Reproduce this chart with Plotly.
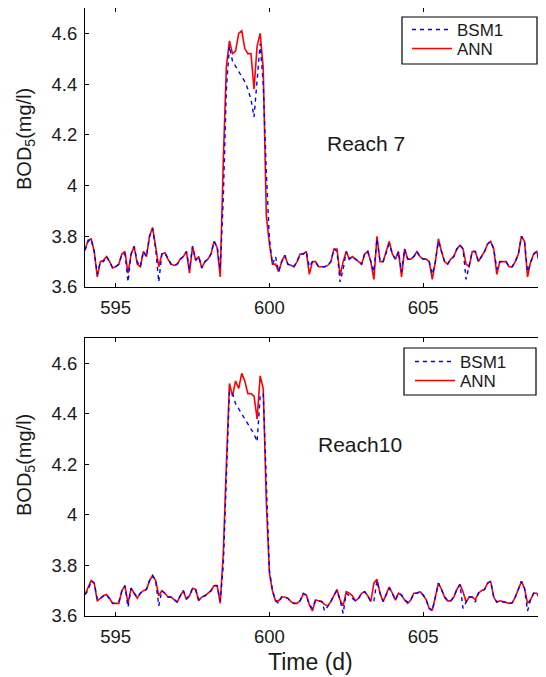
import plotly.graph_objects as go

# ---------------- data ----------------
T_START = 594.0
T_STEP = 0.1
N_POINTS = 151
time_d = [round(T_START + i * T_STEP, 1) for i in range(N_POINTS)]

reach7_ann = [
    3.745, 3.785, 3.79, 3.74, 3.64, 3.70, 3.705, 3.72, 3.70, 3.675,
    3.68, 3.69, 3.73, 3.74, 3.655, 3.73, 3.76, 3.69, 3.68, 3.74,
    3.72, 3.80, 3.835, 3.75, 3.68, 3.73, 3.735, 3.71, 3.69, 3.685,
    3.69, 3.71, 3.72, 3.74, 3.655, 3.76, 3.705, 3.72, 3.675, 3.70,
    3.71, 3.73, 3.78, 3.755, 3.64, 4.10, 4.47, 4.57, 4.52, 4.53,
    4.60, 4.61, 4.54, 4.52, 4.52, 4.38, 4.55, 4.60, 4.46, 3.88,
    3.77, 3.69, 3.69, 3.66, 3.70, 3.725, 3.69, 3.686, 3.68, 3.70,
    3.73, 3.73, 3.74, 3.65, 3.70, 3.70, 3.68, 3.68, 3.68, 3.685,
    3.70, 3.75, 3.75, 3.645, 3.70, 3.74, 3.71, 3.72, 3.71, 3.70,
    3.69, 3.73, 3.74, 3.70, 3.63, 3.80, 3.70, 3.70, 3.74, 3.78,
    3.73, 3.71, 3.74, 3.64, 3.75, 3.71, 3.71, 3.72, 3.74, 3.72,
    3.71, 3.71, 3.70, 3.63, 3.70, 3.79, 3.74, 3.70, 3.69, 3.71,
    3.72, 3.75, 3.765, 3.75, 3.69, 3.68, 3.74, 3.74, 3.70, 3.72,
    3.74, 3.77, 3.78, 3.75, 3.65, 3.70, 3.70, 3.70, 3.68, 3.68,
    3.70, 3.73, 3.80, 3.78, 3.64, 3.70, 3.73, 3.74, 3.69, 3.70,
    3.71,
]

reach7_bsm1 = [
    3.745, 3.78, 3.79, 3.74, 3.65, 3.70, 3.70, 3.72, 3.70, 3.675,
    3.68, 3.69, 3.73, 3.73, 3.62, 3.73, 3.76, 3.70, 3.68, 3.74,
    3.72, 3.80, 3.83, 3.75, 3.62, 3.73, 3.735, 3.71, 3.69, 3.685,
    3.69, 3.71, 3.72, 3.74, 3.67, 3.76, 3.705, 3.72, 3.675, 3.70,
    3.71, 3.73, 3.78, 3.76, 3.67, 3.95, 4.38, 4.55, 4.49, 4.47,
    4.45, 4.43, 4.41, 4.38, 4.34, 4.27, 4.42, 4.56, 4.40, 4.05,
    3.79, 3.69, 3.72, 3.66, 3.70, 3.725, 3.69, 3.686, 3.68, 3.70,
    3.73, 3.73, 3.74, 3.68, 3.70, 3.70, 3.68, 3.68, 3.68, 3.685,
    3.70, 3.75, 3.74, 3.62, 3.67, 3.74, 3.71, 3.72, 3.71, 3.70,
    3.69, 3.73, 3.74, 3.70, 3.66, 3.79, 3.70, 3.70, 3.74, 3.77,
    3.73, 3.71, 3.74, 3.66, 3.75, 3.71, 3.71, 3.72, 3.74, 3.72,
    3.71, 3.71, 3.70, 3.65, 3.70, 3.78, 3.74, 3.70, 3.69, 3.71,
    3.72, 3.75, 3.765, 3.75, 3.63, 3.68, 3.74, 3.74, 3.70, 3.72,
    3.74, 3.77, 3.78, 3.75, 3.67, 3.70, 3.70, 3.70, 3.68, 3.68,
    3.70, 3.73, 3.80, 3.78, 3.66, 3.70, 3.73, 3.74, 3.69, 3.64,
    3.67,
]

reach10_ann = [
    3.685, 3.71, 3.74, 3.73, 3.66, 3.67, 3.68, 3.685, 3.67, 3.65,
    3.65, 3.65, 3.70, 3.72, 3.65, 3.71, 3.69, 3.67, 3.69, 3.70,
    3.705, 3.74, 3.76, 3.74, 3.68, 3.70, 3.69, 3.675, 3.675, 3.665,
    3.655, 3.68, 3.70, 3.665, 3.68, 3.71, 3.705, 3.66, 3.675, 3.68,
    3.69, 3.70, 3.72, 3.72, 3.65, 3.85, 4.20, 4.52, 4.47, 4.53,
    4.50, 4.56, 4.53, 4.48, 4.48, 4.47, 4.38, 4.55, 4.50, 4.05,
    3.77, 3.70, 3.66, 3.66, 3.675, 3.675, 3.67, 3.657, 3.65, 3.65,
    3.66, 3.686, 3.683, 3.645, 3.62, 3.663, 3.66, 3.657, 3.645, 3.64,
    3.657, 3.683, 3.705, 3.663, 3.64, 3.696, 3.69, 3.68, 3.66, 3.67,
    3.69, 3.696, 3.68, 3.657, 3.73, 3.745, 3.69, 3.657, 3.683, 3.715,
    3.69, 3.663, 3.69, 3.683, 3.663, 3.65, 3.663, 3.69, 3.69, 3.696,
    3.683, 3.665, 3.63, 3.624, 3.675, 3.73, 3.705, 3.675, 3.66, 3.66,
    3.675, 3.705, 3.725, 3.696, 3.655, 3.675, 3.675, 3.665, 3.69, 3.70,
    3.705, 3.73, 3.737, 3.675, 3.655, 3.66, 3.657, 3.655, 3.65, 3.652,
    3.675, 3.705, 3.737, 3.71, 3.65, 3.665, 3.69, 3.69, 3.67, 3.68,
    3.69,
]

reach10_bsm1 = [
    3.685, 3.70, 3.74, 3.73, 3.665, 3.67, 3.68, 3.685, 3.665, 3.65,
    3.65, 3.655, 3.70, 3.72, 3.635, 3.71, 3.69, 3.675, 3.69, 3.70,
    3.705, 3.74, 3.76, 3.74, 3.64, 3.70, 3.69, 3.675, 3.675, 3.665,
    3.655, 3.68, 3.70, 3.67, 3.68, 3.71, 3.705, 3.665, 3.675, 3.68,
    3.69, 3.70, 3.72, 3.72, 3.66, 3.80, 4.15, 4.49, 4.48, 4.44,
    4.42, 4.40, 4.38, 4.36, 4.34, 4.32, 4.29, 4.47, 4.48, 4.12,
    3.78, 3.70, 3.66, 3.65, 3.675, 3.675, 3.67, 3.657, 3.65, 3.65,
    3.66, 3.69, 3.683, 3.645, 3.63, 3.663, 3.66, 3.657, 3.62, 3.64,
    3.657, 3.683, 3.70, 3.663, 3.61, 3.69, 3.68, 3.67, 3.66, 3.67,
    3.69, 3.696, 3.68, 3.657, 3.66, 3.74, 3.69, 3.657, 3.683, 3.71,
    3.69, 3.663, 3.69, 3.683, 3.663, 3.655, 3.663, 3.69, 3.69, 3.696,
    3.683, 3.665, 3.63, 3.62, 3.675, 3.73, 3.705, 3.675, 3.66, 3.66,
    3.675, 3.705, 3.725, 3.63, 3.655, 3.675, 3.675, 3.655, 3.69, 3.70,
    3.705, 3.73, 3.737, 3.675, 3.655, 3.66, 3.655, 3.655, 3.65, 3.652,
    3.675, 3.705, 3.737, 3.71, 3.62, 3.665, 3.69, 3.69, 3.67, 3.63,
    3.66,
]

x_tickvals = [595, 600, 605]
x_ticktext = ["595", "600", "605"]
y_tickvals = [3.6, 3.8, 4.0, 4.2, 4.4, 4.6]
y_ticktext = ["3.6", "3.8", "4", "4.2", "4.4", "4.6"]
series_names = ["BSM1", "ANN"]
panel_labels = ["Reach 7", "Reach10"]

# ---------------- figure ----------------
FONT = "Liberation Sans, Arial, sans-serif"
TXT = "#1a1a1a"
BLUE = "#0000ff"
RED = "#ff0000"

# the page body adds an 8px offset; all targets below are screen pixels
OFF = 8
W, H = 546, 677
L = 85 - OFF
PLOT_RIGHT = 546 - OFF
R = W - PLOT_RIGHT
T = 0
B = H - (616 - OFF)
plot_w = W - L - R
plot_h = H - T - B


def px_x(sx):
    return (sx - OFF - L) / plot_w


def px_y(sy):
    return (H - B - (sy - OFF)) / plot_h


fig = go.Figure()

panels = [
    ("x", "y", "legend", "legend2", reach7_bsm1, reach7_ann),
    ("x2", "y2", "legend3", "legend4", reach10_bsm1, reach10_ann),
]
for xa, ya, leg_b, leg_a, bsm, ann in panels:
    fig.add_trace(go.Scatter(
        x=time_d, y=ann, name=series_names[1], mode="lines",
        line=dict(color=RED, width=1.6), xaxis=xa, yaxis=ya, legend=leg_a,
    ))
    fig.add_trace(go.Scatter(
        x=time_d, y=bsm, name=series_names[0], mode="lines",
        line=dict(color=BLUE, width=1.4, dash="4px,4px"), xaxis=xa, yaxis=ya,
        legend=leg_b,
    ))

axis_common = dict(
    showline=True, linecolor="black", linewidth=1, mirror="ticks",
    ticks="inside", ticklen=4, tickcolor="black", showgrid=False,
    zeroline=False, tickfont=dict(family=FONT, size=18.5, color=TXT),
)

top_dom = [px_y(287), px_y(8)]
bot_dom = [0.0, px_y(338)]

legend_common = dict(
    xanchor="left", yanchor="middle", bgcolor="rgba(0,0,0,0)", borderwidth=0,
    font=dict(family=FONT, size=17, color=TXT), itemwidth=40, tracegroupgap=0,
)

fig.update_layout(
    width=W, height=H,
    margin=dict(l=L, r=R, t=T, b=B),
    paper_bgcolor="white", plot_bgcolor="white",
    font=dict(family=FONT, color=TXT),
    xaxis=dict(range=[594, 609], tickvals=x_tickvals, ticktext=x_ticktext,
               anchor="y", domain=[0, 1], ticklabelstandoff=4, **axis_common),
    yaxis=dict(range=[3.6, 4.7], tickvals=y_tickvals, ticktext=y_ticktext,
               anchor="x", domain=top_dom, ticklabelstandoff=3, **axis_common),
    xaxis2=dict(range=[594, 609], tickvals=x_tickvals, ticktext=x_ticktext,
                anchor="y2", domain=[0, 1], ticklabelstandoff=4, **axis_common),
    yaxis2=dict(range=[3.6, 4.7], tickvals=y_tickvals, ticktext=y_ticktext,
                anchor="x2", domain=bot_dom, ticklabelstandoff=3, **axis_common),
    legend=dict(x=px_x(407), y=px_y(30), **legend_common),
    legend2=dict(x=px_x(407), y=px_y(49), **legend_common),
    legend3=dict(x=px_x(410), y=px_y(362), **legend_common),
    legend4=dict(x=px_x(410), y=px_y(381), **legend_common),
    showlegend=True,
)

shapes = [
    dict(type="rect", xref="paper", yref="paper",
         x0=px_x(402), x1=px_x(537), y0=px_y(64), y1=px_y(17),
         line=dict(color="black", width=1.2), fillcolor="rgba(0,0,0,0)", layer="above"),
    dict(type="rect", xref="paper", yref="paper",
         x0=px_x(404), x1=px_x(536), y0=px_y(395), y1=px_y(348),
         line=dict(color="black", width=1.2), fillcolor="rgba(0,0,0,0)", layer="above"),
]
fig.update_layout(shapes=shapes)

annotations = [
    dict(text=panel_labels[0], x=px_x(366), y=px_y(130), xref="paper", yref="paper",
         showarrow=False, font=dict(family=FONT, size=21, color=TXT)),
    dict(text=panel_labels[1], x=px_x(360), y=px_y(458), xref="paper", yref="paper",
         showarrow=False, font=dict(family=FONT, size=21, color=TXT)),
    dict(text="BOD<sub>5</sub>(mg/l)", x=px_x(25), y=px_y(139), xref="paper", yref="paper",
         textangle=-90, showarrow=False, xanchor="center", yanchor="middle",
         font=dict(family=FONT, size=20, color=TXT)),
    dict(text="BOD<sub>5</sub>(mg/l)", x=px_x(25), y=px_y(465), xref="paper", yref="paper",
         textangle=-90, showarrow=False, xanchor="center", yanchor="middle",
         font=dict(family=FONT, size=20, color=TXT)),
    dict(text="Time (d)", x=px_x(310), y=px_y(662), xref="paper", yref="paper",
         showarrow=False, xanchor="center", yanchor="middle",
         font=dict(family=FONT, size=23, color=TXT)),
]
fig.update_layout(annotations=annotations)

fig.write_html("out.html")
